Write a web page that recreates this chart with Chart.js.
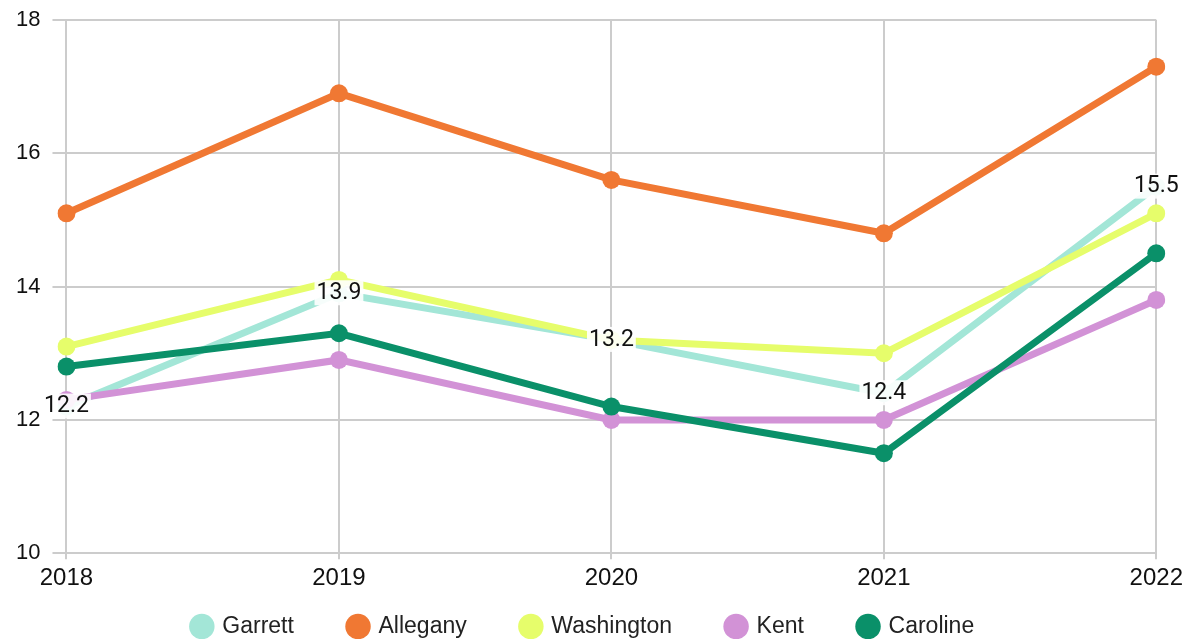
<!DOCTYPE html>
<html>
<head>
<meta charset="utf-8">
<script src="https://cdn.jsdelivr.net/npm/chart.js@4"></script>
<style>
  html, body { margin: 0; padding: 0; background: #fff; }
  #wrap { width: 1188px; height: 639px; }
</style>
</head>
<body>
<div id="wrap"><canvas id="chart"></canvas></div>
<script>
const years = ["2018", "2019", "2020", "2021", "2022"];
const garrett = [12.2, 13.9, 13.2, 12.4, 15.5];
const allegany = [15.1, 16.9, 15.6, 14.8, 17.3];
const washington = [13.1, 14.1, 13.2, 13.0, 15.1];
const kent = [12.3, 12.9, 12.0, 12.0, 13.8];
const caroline = [12.8, 13.3, 12.2, 11.5, 14.5];

const seriesNames = ["Garrett", "Allegany", "Washington", "Kent", "Caroline"];
const seriesData = [garrett, allegany, washington, kent, caroline];
const seriesColors = ["#a3e6d7", "#f07833", "#e6fd6b", "#d292d6", "#0a9069"];

const baseFont = "'Liberation Sans', Arial, sans-serif";

// value labels for the first series on a white box, like the original
const valueLabels = {
  id: "valueLabels",
  afterDatasetsDraw(chart) {
    const ctx = chart.ctx;
    const meta = chart.getDatasetMeta(0);
    ctx.save();
    ctx.font = "23px Roboto";
    ctx.textAlign = "center";
    ctx.textBaseline = "middle";
    meta.data.forEach((pt, i) => {
      const txt = String(garrett[i]);
      const w = ctx.measureText(txt).width + 4;
      ctx.fillStyle = "rgba(255,255,255,0.9)";
      ctx.fillRect(pt.x - w / 2, pt.y - 13, w, 25);
      ctx.fillStyle = "#111";
      ctx.fillText(txt, pt.x, pt.y);
    });
    ctx.restore();
  }
};

// legend in dataset order, with a wider gap between items
function legendLabels(chart) {
  const items = Chart.defaults.plugins.legend.labels.generateLabels(chart);
  items.sort((a, b) => a.datasetIndex - b.datasetIndex);
  items.forEach((it, i) => {
    if (i < items.length - 1) it.text = it.text + "        ";
  });
  return items;
}

new Chart(document.getElementById("chart"), {
  type: "line",
  data: {
    labels: years,
    datasets: seriesNames.map((name, i) => ({
      label: name,
      data: seriesData[i],
      borderColor: seriesColors[i],
      backgroundColor: seriesColors[i],
      borderWidth: 7,
      pointRadius: 9,
      pointHoverRadius: 9,
      pointBorderWidth: 0,
      tension: 0,
      order: seriesNames.length - i
    }))
  },
  options: {
    responsive: true,
    maintainAspectRatio: false,
    animation: false,
    layout: { padding: { top: 20, right: 25, left: 4, bottom: -9 } },
    plugins: {
      legend: {
        position: "bottom",
        labels: {
          generateLabels: legendLabels,
          usePointStyle: true,
          pointStyle: "circle",
          boxWidth: 18,
          boxHeight: 18,
          padding: 4,
          color: "#222",
          font: { family: baseFont, size: 23 }
        }
      },
      tooltip: { enabled: false }
    },
    scales: {
      x: {
        offset: false,
        grid: { color: "#cccccc", lineWidth: 2, tickLength: 6 },
        border: { display: false },
        ticks: { color: "#111", font: { family: baseFont, size: 24 }, padding: 5 },
        afterFit(scale) { scale.height += 13; }
      },
      y: {
        min: 10,
        max: 18,
        ticks: { stepSize: 2, color: "#111", font: { family: baseFont, size: 22 }, padding: 12 },
        grid: { color: "#cccccc", lineWidth: 2, tickLength: 14 },
        border: { display: false },
        afterFit(scale) { scale.paddingTop = 0; scale.paddingBottom = 0; }
      }
    }
  },
  plugins: [valueLabels]
});
</script>
</body>
</html>
